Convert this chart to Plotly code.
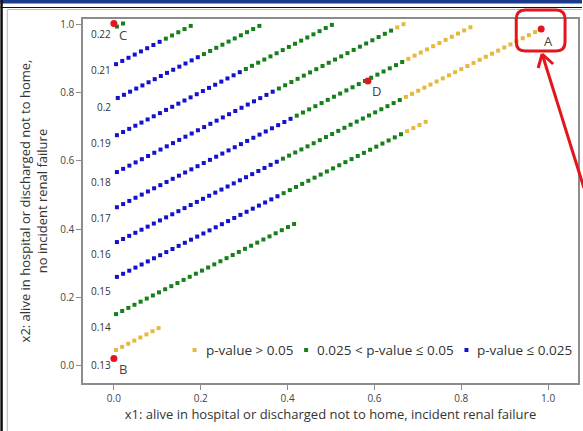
import numpy as np
import plotly.graph_objects as go

# ---------------- data ----------------
# each diagonal line of dots: label, start (x1, x2), end (x1, x2), number of dots by p-value class
LINE_LABELS = ["0.13", "0.14", "0.15", "0.16", "0.17", "0.18", "0.19", "0.2", "0.21", "0.22"]
LABEL_Y     = [0.002, 0.113, 0.219, 0.327, 0.432, 0.538, 0.652, 0.757, 0.866, 0.971]
X_START     = [0.005, 0.005, 0.007, 0.007, 0.007, 0.007, 0.007, 0.009, 0.005, 0.007]
Y_START     = [0.046, 0.151, 0.260, 0.362, 0.464, 0.567, 0.675, 0.784, 0.883, 0.993]
X_END       = [0.103, 0.415, 0.718, 0.984, 0.821, 0.667, 0.502, 0.335, 0.177, 0.021]
Y_END       = [0.110, 0.415, 0.714, 0.986, 0.991, 1.000, 0.998, 0.995, 0.995, 1.002]
N_BLUE      = [0, 0, 27, 27, 29, 26, 21, 14, 8, 0]   # p-value <= 0.025
N_GREEN     = [0, 30, 20, 20, 18, 19, 15, 10, 5, 2]  # 0.025 < p-value <= 0.05
N_YELLOW    = [8, 0, 4, 23, 11, 2, 0, 0, 0, 0]       # p-value > 0.05

# highlighted scenarios
POINT_NAMES = ["A", "B", "C", "D"]
POINT_X1    = [0.984, 0.000, 0.000, 0.585]
POINT_X2    = [0.986, 0.021, 1.002, 0.834]
NAME_X      = [1.002, 0.021, 0.021, 0.605]
NAME_Y      = [0.951, -0.010, 0.968, 0.805]

TICKS = [0.0, 0.2, 0.4, 0.6, 0.8, 1.0]

CLASS_NAMES = ["p-value > 0.05", "0.025 < p-value ≤ 0.05", "p-value ≤ 0.025"]

YELLOW, GREEN, BLUE, RED = "#E6B840", "#15801A", "#1212CC", "#E3161E"
FONT = "Open Sans"

# ---------------- build point sets ----------------
groups = {"y": ([], []), "g": ([], []), "b": ([], [])}
for i in range(len(LINE_LABELS)):
    n = N_BLUE[i] + N_GREEN[i] + N_YELLOW[i]
    xs = np.linspace(X_START[i], X_END[i], n)
    ys = np.linspace(Y_START[i], Y_END[i], n)
    cls = ["b"] * N_BLUE[i] + ["g"] * N_GREEN[i] + ["y"] * N_YELLOW[i]
    for xv, yv, c in zip(xs, ys, cls):
        groups[c][0].append(xv)
        groups[c][1].append(yv)

# pixel -> paper helpers (plot area: x 83..580, y 19..383)
def px(x): return (x - 83) / 497.0
def py(y): return (383 - y) / 364.0

fig = go.Figure()
for key, name, col in [("y", CLASS_NAMES[0], YELLOW),
                       ("g", CLASS_NAMES[1], GREEN),
                       ("b", CLASS_NAMES[2], BLUE)]:
    fig.add_trace(go.Scatter(x=groups[key][0], y=groups[key][1], mode="markers", name=name,
                             showlegend=False,
                             marker=dict(symbol="square", size=4, color=col, line=dict(width=0))))

fig.add_trace(go.Scatter(x=POINT_X1, y=POINT_X2, mode="markers", showlegend=False,
                         marker=dict(symbol="circle", size=7, color=RED, line=dict(width=0))))

annotations = []
for lab, ly in zip(LINE_LABELS, LABEL_Y):
    annotations.append(dict(x=-0.003, y=ly, xref="x", yref="y", text=lab, showarrow=False,
                            xanchor="right", yanchor="middle",
                            font=dict(family=FONT, size=10, color="#333333")))
for nm, nx, ny in zip(POINT_NAMES, NAME_X, NAME_Y):
    annotations.append(dict(x=nx, y=ny, xref="x", yref="y", text=nm, showarrow=False,
                            xanchor="center", yanchor="middle",
                            font=dict(family=FONT, size=13, color="#444444")))

shapes = [
    # page frame decoration
    dict(type="rect", xref="paper", yref="paper", x0=px(0), x1=px(584), y0=py(0), y1=py(3.5),
         fillcolor="#1C3A8C", line=dict(width=0), layer="above"),
    dict(type="line", xref="paper", yref="paper", x0=px(0), x1=px(584), y0=py(7.5), y1=py(7.5),
         line=dict(color="#111111", width=1.2)),
    dict(type="line", xref="paper", yref="paper", x0=px(7), x1=px(584), y0=py(9.5), y1=py(9.5),
         line=dict(color="#BBBBBB", width=1)),
    dict(type="rect", xref="paper", yref="paper", x0=px(0), x1=px(2.5), y0=py(432), y1=py(0),
         fillcolor="#111111", line=dict(width=0)),
    dict(type="line", xref="paper", yref="paper", x0=px(7), x1=px(7), y0=py(432), y1=py(9.5),
         line=dict(color="#BBBBBB", width=1)),
]

# legend (swatch + text), laid out as in the original
LEG_SWATCH_X = [195, 307, 468]
LEG_Y = 350
for name, col, sx in zip(CLASS_NAMES, [YELLOW, GREEN, BLUE], LEG_SWATCH_X):
    shapes.append(dict(type="rect", xref="paper", yref="paper",
                       x0=px(sx - 2), x1=px(sx + 2), y0=py(LEG_Y + 2), y1=py(LEG_Y - 2),
                       fillcolor=col, line=dict(width=0)))
    annotations.append(dict(x=px(sx + 9), y=py(LEG_Y), xref="paper", yref="paper", text=name,
                            showarrow=False, xanchor="left", yanchor="middle",
                            font=dict(family=FONT, size=13.5, color="#333333")))

# red rounded box around A
bx0, bx1, by0, by1, r = 518, 567, 10, 51, 9
path = (f"M {px(bx0 + r)},{py(by0)} L {px(bx1 - r)},{py(by0)} "
        f"Q {px(bx1)},{py(by0)} {px(bx1)},{py(by0 + r)} L {px(bx1)},{py(by1 - r)} "
        f"Q {px(bx1)},{py(by1)} {px(bx1 - r)},{py(by1)} L {px(bx0 + r)},{py(by1)} "
        f"Q {px(bx0)},{py(by1)} {px(bx0)},{py(by1 - r)} L {px(bx0)},{py(by0 + r)} "
        f"Q {px(bx0)},{py(by0)} {px(bx0 + r)},{py(by0)} Z")
shapes.append(dict(type="path", xref="paper", yref="paper", path=path,
                   line=dict(color=RED, width=3)))
# red arrow
tipx, tipy = 544, 54
shapes += [
    dict(type="line", xref="paper", yref="paper", x0=px(586), y0=py(188), x1=px(tipx), y1=py(tipy),
         line=dict(color=RED, width=3)),
    dict(type="line", xref="paper", yref="paper", x0=px(tipx), y0=py(tipy), x1=px(540), y1=py(68),
         line=dict(color=RED, width=3)),
    dict(type="line", xref="paper", yref="paper", x0=px(tipx), y0=py(tipy), x1=px(555), y1=py(64),
         line=dict(color=RED, width=3)),
]

axis_common = dict(showline=True, mirror=True, linecolor="#8C8C8C", linewidth=1.5,
                   ticks="outside", ticklen=5, tickcolor="#8C8C8C", tickwidth=1,
                   showgrid=False, zeroline=False, tickvals=TICKS, tickformat=".1f",
                   tickfont=dict(family=FONT, size=10, color="#444444"))

fig.update_layout(
    width=583, height=431,
    margin=dict(l=83, r=3, t=19, b=48),
    paper_bgcolor="white", plot_bgcolor="white",
    font=dict(family=FONT, color="#333333"),
    xaxis=dict(range=[-0.0711, 1.0688],
               title=dict(text="x1: alive in hospital or discharged not to home, incident renal failure",
                          font=dict(family=FONT, size=13, color="#333333"), standoff=4),
               **axis_common),
    yaxis=dict(range=[-0.0507, 1.0152],
               title=dict(text="x2: alive in hospital or discharged not to home,<br>no incident renal failure",
                          font=dict(family=FONT, size=13, color="#333333"), standoff=10),
               **axis_common),
    annotations=annotations,
    shapes=shapes,
    showlegend=False,
)

fig.write_html("out.html", config={"displayModeBar": False},
               post_script="document.body.style.margin='0';")
